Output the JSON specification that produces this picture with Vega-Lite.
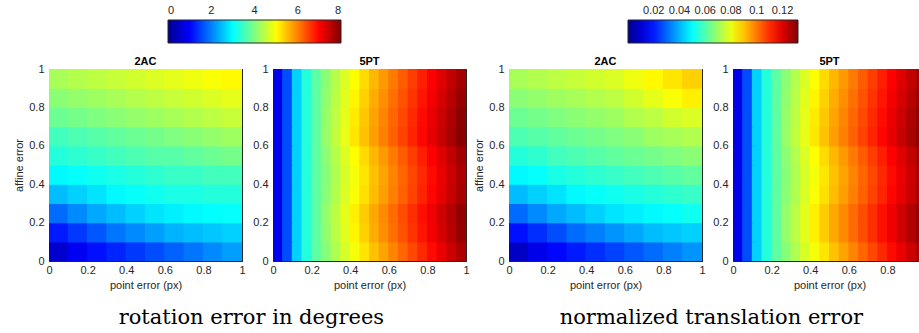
{
  "$schema": "https://vega.github.io/schema/vega-lite/v6.json",
  "padding": {"left": 13, "top": 20, "right": 0, "bottom": 0},
  "background": "white",
  "datasets": {
    "r2": [
      {"x":0.05,"y":0.05,"v":0.56},{"x":0.15,"y":0.05,"v":0.88},{"x":0.25,"y":0.05,"v":1.12},{"x":0.35,"y":0.05,"v":1.28},{"x":0.45,"y":0.05,"v":1.44},{"x":0.55,"y":0.05,"v":1.6},{"x":0.65,"y":0.05,"v":1.76},{"x":0.75,"y":0.05,"v":1.92},{"x":0.85,"y":0.05,"v":2.08},{"x":0.95,"y":0.05,"v":2.24},
      {"x":0.05,"y":0.15,"v":1.2},{"x":0.15,"y":0.15,"v":1.44},{"x":0.25,"y":0.15,"v":1.68},{"x":0.35,"y":0.15,"v":1.92},{"x":0.45,"y":0.15,"v":2.08},{"x":0.55,"y":0.15,"v":2.24},{"x":0.65,"y":0.15,"v":2.4},{"x":0.75,"y":0.15,"v":2.48},{"x":0.85,"y":0.15,"v":2.56},{"x":0.95,"y":0.15,"v":2.64},
      {"x":0.05,"y":0.25,"v":1.84},{"x":0.15,"y":0.25,"v":2.08},{"x":0.25,"y":0.25,"v":2.32},{"x":0.35,"y":0.25,"v":2.48},{"x":0.45,"y":0.25,"v":2.64},{"x":0.55,"y":0.25,"v":2.8},{"x":0.65,"y":0.25,"v":2.88},{"x":0.75,"y":0.25,"v":2.96},{"x":0.85,"y":0.25,"v":3.0},{"x":0.95,"y":0.25,"v":3.04},
      {"x":0.05,"y":0.35,"v":2.48},{"x":0.15,"y":0.35,"v":2.64},{"x":0.25,"y":0.35,"v":2.8},{"x":0.35,"y":0.35,"v":2.96},{"x":0.45,"y":0.35,"v":3.04},{"x":0.55,"y":0.35,"v":3.12},{"x":0.65,"y":0.35,"v":3.2},{"x":0.75,"y":0.35,"v":3.2},{"x":0.85,"y":0.35,"v":3.28},{"x":0.95,"y":0.35,"v":3.28},
      {"x":0.05,"y":0.45,"v":2.96},{"x":0.15,"y":0.45,"v":3.04},{"x":0.25,"y":0.45,"v":3.12},{"x":0.35,"y":0.45,"v":3.2},{"x":0.45,"y":0.45,"v":3.28},{"x":0.55,"y":0.45,"v":3.36},{"x":0.65,"y":0.45,"v":3.44},{"x":0.75,"y":0.45,"v":3.44},{"x":0.85,"y":0.45,"v":3.52},{"x":0.95,"y":0.45,"v":3.52},
      {"x":0.05,"y":0.55,"v":3.28},{"x":0.15,"y":0.55,"v":3.36},{"x":0.25,"y":0.55,"v":3.44},{"x":0.35,"y":0.55,"v":3.52},{"x":0.45,"y":0.55,"v":3.6},{"x":0.55,"y":0.55,"v":3.68},{"x":0.65,"y":0.55,"v":3.68},{"x":0.75,"y":0.55,"v":3.76},{"x":0.85,"y":0.55,"v":3.84},{"x":0.95,"y":0.55,"v":3.92},
      {"x":0.05,"y":0.65,"v":3.52},{"x":0.15,"y":0.65,"v":3.6},{"x":0.25,"y":0.65,"v":3.68},{"x":0.35,"y":0.65,"v":3.76},{"x":0.45,"y":0.65,"v":3.84},{"x":0.55,"y":0.65,"v":3.92},{"x":0.65,"y":0.65,"v":4.0},{"x":0.75,"y":0.65,"v":4.08},{"x":0.85,"y":0.65,"v":4.16},{"x":0.95,"y":0.65,"v":4.24},
      {"x":0.05,"y":0.75,"v":3.84},{"x":0.15,"y":0.75,"v":3.92},{"x":0.25,"y":0.75,"v":4.0},{"x":0.35,"y":0.75,"v":4.08},{"x":0.45,"y":0.75,"v":4.16},{"x":0.55,"y":0.75,"v":4.24},{"x":0.65,"y":0.75,"v":4.32},{"x":0.75,"y":0.75,"v":4.4},{"x":0.85,"y":0.75,"v":4.48},{"x":0.95,"y":0.75,"v":4.56},
      {"x":0.05,"y":0.85,"v":4.08},{"x":0.15,"y":0.85,"v":4.16},{"x":0.25,"y":0.85,"v":4.24},{"x":0.35,"y":0.85,"v":4.32},{"x":0.45,"y":0.85,"v":4.4},{"x":0.55,"y":0.85,"v":4.48},{"x":0.65,"y":0.85,"v":4.56},{"x":0.75,"y":0.85,"v":4.64},{"x":0.85,"y":0.85,"v":4.72},{"x":0.95,"y":0.85,"v":4.8},
      {"x":0.05,"y":0.95,"v":4.32},{"x":0.15,"y":0.95,"v":4.4},{"x":0.25,"y":0.95,"v":4.48},{"x":0.35,"y":0.95,"v":4.56},{"x":0.45,"y":0.95,"v":4.64},{"x":0.55,"y":0.95,"v":4.72},{"x":0.65,"y":0.95,"v":4.8},{"x":0.75,"y":0.95,"v":4.88},{"x":0.85,"y":0.95,"v":4.96},{"x":0.95,"y":0.95,"v":5.04}
    ],
    "t2": [
      {"x":0.05,"y":0.05,"v":0.0079},{"x":0.15,"y":0.05,"v":0.0132},{"x":0.25,"y":0.05,"v":0.0172},{"x":0.35,"y":0.05,"v":0.0198},{"x":0.45,"y":0.05,"v":0.0224},{"x":0.55,"y":0.05,"v":0.0251},{"x":0.65,"y":0.05,"v":0.0277},{"x":0.75,"y":0.05,"v":0.0304},{"x":0.85,"y":0.05,"v":0.033},{"x":0.95,"y":0.05,"v":0.0356},
      {"x":0.05,"y":0.15,"v":0.0185},{"x":0.15,"y":0.15,"v":0.0224},{"x":0.25,"y":0.15,"v":0.0264},{"x":0.35,"y":0.15,"v":0.0304},{"x":0.45,"y":0.15,"v":0.033},{"x":0.55,"y":0.15,"v":0.0356},{"x":0.65,"y":0.15,"v":0.0383},{"x":0.75,"y":0.15,"v":0.0409},{"x":0.85,"y":0.15,"v":0.0422},{"x":0.95,"y":0.15,"v":0.0436},
      {"x":0.05,"y":0.25,"v":0.0304},{"x":0.15,"y":0.25,"v":0.0343},{"x":0.25,"y":0.25,"v":0.0383},{"x":0.35,"y":0.25,"v":0.0409},{"x":0.45,"y":0.25,"v":0.0436},{"x":0.55,"y":0.25,"v":0.0462},{"x":0.65,"y":0.25,"v":0.0475},{"x":0.75,"y":0.25,"v":0.0488},{"x":0.85,"y":0.25,"v":0.0502},{"x":0.95,"y":0.25,"v":0.0515},
      {"x":0.05,"y":0.35,"v":0.0409},{"x":0.15,"y":0.35,"v":0.0436},{"x":0.25,"y":0.35,"v":0.0462},{"x":0.35,"y":0.35,"v":0.0488},{"x":0.45,"y":0.35,"v":0.0502},{"x":0.55,"y":0.35,"v":0.0515},{"x":0.65,"y":0.35,"v":0.0528},{"x":0.75,"y":0.35,"v":0.0541},{"x":0.85,"y":0.35,"v":0.0554},{"x":0.95,"y":0.35,"v":0.0568},
      {"x":0.05,"y":0.45,"v":0.0488},{"x":0.15,"y":0.45,"v":0.0502},{"x":0.25,"y":0.45,"v":0.0528},{"x":0.35,"y":0.45,"v":0.0541},{"x":0.45,"y":0.45,"v":0.0554},{"x":0.55,"y":0.45,"v":0.0568},{"x":0.65,"y":0.45,"v":0.0581},{"x":0.75,"y":0.45,"v":0.0594},{"x":0.85,"y":0.45,"v":0.0607},{"x":0.95,"y":0.45,"v":0.062},
      {"x":0.05,"y":0.55,"v":0.0541},{"x":0.15,"y":0.55,"v":0.0554},{"x":0.25,"y":0.55,"v":0.0581},{"x":0.35,"y":0.55,"v":0.0594},{"x":0.45,"y":0.55,"v":0.0607},{"x":0.55,"y":0.55,"v":0.062},{"x":0.65,"y":0.55,"v":0.0634},{"x":0.75,"y":0.55,"v":0.0647},{"x":0.85,"y":0.55,"v":0.066},{"x":0.95,"y":0.55,"v":0.0673},
      {"x":0.05,"y":0.65,"v":0.0594},{"x":0.15,"y":0.65,"v":0.0607},{"x":0.25,"y":0.65,"v":0.062},{"x":0.35,"y":0.65,"v":0.0634},{"x":0.45,"y":0.65,"v":0.0647},{"x":0.55,"y":0.65,"v":0.066},{"x":0.65,"y":0.65,"v":0.0673},{"x":0.75,"y":0.65,"v":0.07},{"x":0.85,"y":0.65,"v":0.0713},{"x":0.95,"y":0.65,"v":0.0726},
      {"x":0.05,"y":0.75,"v":0.0634},{"x":0.15,"y":0.75,"v":0.0647},{"x":0.25,"y":0.75,"v":0.066},{"x":0.35,"y":0.75,"v":0.0673},{"x":0.45,"y":0.75,"v":0.0686},{"x":0.55,"y":0.75,"v":0.07},{"x":0.65,"y":0.75,"v":0.0726},{"x":0.75,"y":0.75,"v":0.0739},{"x":0.85,"y":0.75,"v":0.0766},{"x":0.95,"y":0.75,"v":0.0779},
      {"x":0.05,"y":0.85,"v":0.0673},{"x":0.15,"y":0.85,"v":0.0686},{"x":0.25,"y":0.85,"v":0.07},{"x":0.35,"y":0.85,"v":0.0713},{"x":0.45,"y":0.85,"v":0.0726},{"x":0.55,"y":0.85,"v":0.0739},{"x":0.65,"y":0.85,"v":0.0766},{"x":0.75,"y":0.85,"v":0.0792},{"x":0.85,"y":0.85,"v":0.0818},{"x":0.95,"y":0.85,"v":0.0845},
      {"x":0.05,"y":0.95,"v":0.0713},{"x":0.15,"y":0.95,"v":0.0726},{"x":0.25,"y":0.95,"v":0.0739},{"x":0.35,"y":0.95,"v":0.0752},{"x":0.45,"y":0.95,"v":0.0766},{"x":0.55,"y":0.95,"v":0.0779},{"x":0.65,"y":0.95,"v":0.0805},{"x":0.75,"y":0.95,"v":0.0832},{"x":0.85,"y":0.95,"v":0.0858},{"x":0.95,"y":0.95,"v":0.0884}
    ],
    "r5": [
      {"x":0.025,"y":0.05,"v":0.8},{"x":0.075,"y":0.05,"v":1.6},{"x":0.125,"y":0.05,"v":2.64},{"x":0.175,"y":0.05,"v":3.28},{"x":0.225,"y":0.05,"v":3.72},{"x":0.275,"y":0.05,"v":4.04},{"x":0.325,"y":0.05,"v":4.36},{"x":0.375,"y":0.05,"v":4.68},{"x":0.425,"y":0.05,"v":4.92},{"x":0.475,"y":0.05,"v":5.2},{"x":0.525,"y":0.05,"v":5.48},{"x":0.575,"y":0.05,"v":5.72},{"x":0.625,"y":0.05,"v":5.96},{"x":0.675,"y":0.05,"v":6.2},{"x":0.725,"y":0.05,"v":6.44},{"x":0.775,"y":0.05,"v":6.68},{"x":0.825,"y":0.05,"v":6.92},{"x":0.875,"y":0.05,"v":7.16},{"x":0.925,"y":0.05,"v":7.4},{"x":0.975,"y":0.05,"v":7.64},
      {"x":0.025,"y":0.15,"v":0.8},{"x":0.075,"y":0.15,"v":1.6},{"x":0.125,"y":0.15,"v":2.64},{"x":0.175,"y":0.15,"v":3.28},{"x":0.225,"y":0.15,"v":3.72},{"x":0.275,"y":0.15,"v":4.12},{"x":0.325,"y":0.15,"v":4.44},{"x":0.375,"y":0.15,"v":4.76},{"x":0.425,"y":0.15,"v":5.08},{"x":0.475,"y":0.15,"v":5.36},{"x":0.525,"y":0.15,"v":5.64},{"x":0.575,"y":0.15,"v":5.88},{"x":0.625,"y":0.15,"v":6.12},{"x":0.675,"y":0.15,"v":6.36},{"x":0.725,"y":0.15,"v":6.6},{"x":0.775,"y":0.15,"v":6.84},{"x":0.825,"y":0.15,"v":7.08},{"x":0.875,"y":0.15,"v":7.32},{"x":0.925,"y":0.15,"v":7.56},{"x":0.975,"y":0.15,"v":7.8},
      {"x":0.025,"y":0.25,"v":0.8},{"x":0.075,"y":0.25,"v":1.6},{"x":0.125,"y":0.25,"v":2.64},{"x":0.175,"y":0.25,"v":3.28},{"x":0.225,"y":0.25,"v":3.72},{"x":0.275,"y":0.25,"v":4.14},{"x":0.325,"y":0.25,"v":4.46},{"x":0.375,"y":0.25,"v":4.78},{"x":0.425,"y":0.25,"v":5.12},{"x":0.475,"y":0.25,"v":5.4},{"x":0.525,"y":0.25,"v":5.68},{"x":0.575,"y":0.25,"v":5.92},{"x":0.625,"y":0.25,"v":6.16},{"x":0.675,"y":0.25,"v":6.4},{"x":0.725,"y":0.25,"v":6.64},{"x":0.775,"y":0.25,"v":6.88},{"x":0.825,"y":0.25,"v":7.12},{"x":0.875,"y":0.25,"v":7.36},{"x":0.925,"y":0.25,"v":7.6},{"x":0.975,"y":0.25,"v":7.84},
      {"x":0.025,"y":0.35,"v":0.8},{"x":0.075,"y":0.35,"v":1.6},{"x":0.125,"y":0.35,"v":2.64},{"x":0.175,"y":0.35,"v":3.28},{"x":0.225,"y":0.35,"v":3.72},{"x":0.275,"y":0.35,"v":4.06},{"x":0.325,"y":0.35,"v":4.38},{"x":0.375,"y":0.35,"v":4.7},{"x":0.425,"y":0.35,"v":4.96},{"x":0.475,"y":0.35,"v":5.24},{"x":0.525,"y":0.35,"v":5.52},{"x":0.575,"y":0.35,"v":5.76},{"x":0.625,"y":0.35,"v":6.0},{"x":0.675,"y":0.35,"v":6.24},{"x":0.725,"y":0.35,"v":6.48},{"x":0.775,"y":0.35,"v":6.72},{"x":0.825,"y":0.35,"v":6.96},{"x":0.875,"y":0.35,"v":7.2},{"x":0.925,"y":0.35,"v":7.44},{"x":0.975,"y":0.35,"v":7.68},
      {"x":0.025,"y":0.45,"v":0.8},{"x":0.075,"y":0.45,"v":1.6},{"x":0.125,"y":0.45,"v":2.64},{"x":0.175,"y":0.45,"v":3.28},{"x":0.225,"y":0.45,"v":3.72},{"x":0.275,"y":0.45,"v":4.04},{"x":0.325,"y":0.45,"v":4.36},{"x":0.375,"y":0.45,"v":4.68},{"x":0.425,"y":0.45,"v":4.92},{"x":0.475,"y":0.45,"v":5.2},{"x":0.525,"y":0.45,"v":5.48},{"x":0.575,"y":0.45,"v":5.72},{"x":0.625,"y":0.45,"v":5.96},{"x":0.675,"y":0.45,"v":6.2},{"x":0.725,"y":0.45,"v":6.44},{"x":0.775,"y":0.45,"v":6.68},{"x":0.825,"y":0.45,"v":6.92},{"x":0.875,"y":0.45,"v":7.16},{"x":0.925,"y":0.45,"v":7.4},{"x":0.975,"y":0.45,"v":7.64},
      {"x":0.025,"y":0.55,"v":0.8},{"x":0.075,"y":0.55,"v":1.6},{"x":0.125,"y":0.55,"v":2.64},{"x":0.175,"y":0.55,"v":3.28},{"x":0.225,"y":0.55,"v":3.72},{"x":0.275,"y":0.55,"v":4.08},{"x":0.325,"y":0.55,"v":4.4},{"x":0.375,"y":0.55,"v":4.72},{"x":0.425,"y":0.55,"v":5.0},{"x":0.475,"y":0.55,"v":5.28},{"x":0.525,"y":0.55,"v":5.56},{"x":0.575,"y":0.55,"v":5.8},{"x":0.625,"y":0.55,"v":6.04},{"x":0.675,"y":0.55,"v":6.28},{"x":0.725,"y":0.55,"v":6.52},{"x":0.775,"y":0.55,"v":6.76},{"x":0.825,"y":0.55,"v":7.0},{"x":0.875,"y":0.55,"v":7.24},{"x":0.925,"y":0.55,"v":7.48},{"x":0.975,"y":0.55,"v":7.72},
      {"x":0.025,"y":0.65,"v":0.8},{"x":0.075,"y":0.65,"v":1.6},{"x":0.125,"y":0.65,"v":2.64},{"x":0.175,"y":0.65,"v":3.28},{"x":0.225,"y":0.65,"v":3.72},{"x":0.275,"y":0.65,"v":4.18},{"x":0.325,"y":0.65,"v":4.5},{"x":0.375,"y":0.65,"v":4.82},{"x":0.425,"y":0.65,"v":5.2},{"x":0.475,"y":0.65,"v":5.48},{"x":0.525,"y":0.65,"v":5.76},{"x":0.575,"y":0.65,"v":6.0},{"x":0.625,"y":0.65,"v":6.24},{"x":0.675,"y":0.65,"v":6.48},{"x":0.725,"y":0.65,"v":6.72},{"x":0.775,"y":0.65,"v":6.96},{"x":0.825,"y":0.65,"v":7.2},{"x":0.875,"y":0.65,"v":7.44},{"x":0.925,"y":0.65,"v":7.68},{"x":0.975,"y":0.65,"v":7.92},
      {"x":0.025,"y":0.75,"v":0.8},{"x":0.075,"y":0.75,"v":1.6},{"x":0.125,"y":0.75,"v":2.64},{"x":0.175,"y":0.75,"v":3.28},{"x":0.225,"y":0.75,"v":3.72},{"x":0.275,"y":0.75,"v":4.16},{"x":0.325,"y":0.75,"v":4.48},{"x":0.375,"y":0.75,"v":4.8},{"x":0.425,"y":0.75,"v":5.16},{"x":0.475,"y":0.75,"v":5.44},{"x":0.525,"y":0.75,"v":5.72},{"x":0.575,"y":0.75,"v":5.96},{"x":0.625,"y":0.75,"v":6.2},{"x":0.675,"y":0.75,"v":6.44},{"x":0.725,"y":0.75,"v":6.68},{"x":0.775,"y":0.75,"v":6.92},{"x":0.825,"y":0.75,"v":7.16},{"x":0.875,"y":0.75,"v":7.4},{"x":0.925,"y":0.75,"v":7.64},{"x":0.975,"y":0.75,"v":7.88},
      {"x":0.025,"y":0.85,"v":0.8},{"x":0.075,"y":0.85,"v":1.6},{"x":0.125,"y":0.85,"v":2.64},{"x":0.175,"y":0.85,"v":3.28},{"x":0.225,"y":0.85,"v":3.72},{"x":0.275,"y":0.85,"v":4.12},{"x":0.325,"y":0.85,"v":4.44},{"x":0.375,"y":0.85,"v":4.76},{"x":0.425,"y":0.85,"v":5.08},{"x":0.475,"y":0.85,"v":5.36},{"x":0.525,"y":0.85,"v":5.64},{"x":0.575,"y":0.85,"v":5.88},{"x":0.625,"y":0.85,"v":6.12},{"x":0.675,"y":0.85,"v":6.36},{"x":0.725,"y":0.85,"v":6.6},{"x":0.775,"y":0.85,"v":6.84},{"x":0.825,"y":0.85,"v":7.08},{"x":0.875,"y":0.85,"v":7.32},{"x":0.925,"y":0.85,"v":7.56},{"x":0.975,"y":0.85,"v":7.8},
      {"x":0.025,"y":0.95,"v":0.8},{"x":0.075,"y":0.95,"v":1.6},{"x":0.125,"y":0.95,"v":2.64},{"x":0.175,"y":0.95,"v":3.28},{"x":0.225,"y":0.95,"v":3.72},{"x":0.275,"y":0.95,"v":4.08},{"x":0.325,"y":0.95,"v":4.4},{"x":0.375,"y":0.95,"v":4.72},{"x":0.425,"y":0.95,"v":5.0},{"x":0.475,"y":0.95,"v":5.28},{"x":0.525,"y":0.95,"v":5.56},{"x":0.575,"y":0.95,"v":5.8},{"x":0.625,"y":0.95,"v":6.04},{"x":0.675,"y":0.95,"v":6.28},{"x":0.725,"y":0.95,"v":6.52},{"x":0.775,"y":0.95,"v":6.76},{"x":0.825,"y":0.95,"v":7.0},{"x":0.875,"y":0.95,"v":7.24},{"x":0.925,"y":0.95,"v":7.48},{"x":0.975,"y":0.95,"v":7.72}
    ],
    "t5": [
      {"x":0.025,"y":0.05,"v":0.0132},{"x":0.075,"y":0.05,"v":0.0264},{"x":0.125,"y":0.05,"v":0.0436},{"x":0.175,"y":0.05,"v":0.0541},{"x":0.225,"y":0.05,"v":0.0614},{"x":0.275,"y":0.05,"v":0.0667},{"x":0.325,"y":0.05,"v":0.072},{"x":0.375,"y":0.05,"v":0.0773},{"x":0.425,"y":0.05,"v":0.0812},{"x":0.475,"y":0.05,"v":0.0858},{"x":0.525,"y":0.05,"v":0.0904},{"x":0.575,"y":0.05,"v":0.0944},{"x":0.625,"y":0.05,"v":0.0984},{"x":0.675,"y":0.05,"v":0.1023},{"x":0.725,"y":0.05,"v":0.1063},{"x":0.775,"y":0.05,"v":0.1102},{"x":0.825,"y":0.05,"v":0.1142},{"x":0.875,"y":0.05,"v":0.1182},{"x":0.925,"y":0.05,"v":0.1221},{"x":0.975,"y":0.05,"v":0.1261},
      {"x":0.025,"y":0.15,"v":0.0132},{"x":0.075,"y":0.15,"v":0.0264},{"x":0.125,"y":0.15,"v":0.0436},{"x":0.175,"y":0.15,"v":0.0541},{"x":0.225,"y":0.15,"v":0.0614},{"x":0.275,"y":0.15,"v":0.0683},{"x":0.325,"y":0.15,"v":0.0736},{"x":0.375,"y":0.15,"v":0.0789},{"x":0.425,"y":0.15,"v":0.0845},{"x":0.475,"y":0.15,"v":0.0891},{"x":0.525,"y":0.15,"v":0.0937},{"x":0.575,"y":0.15,"v":0.0977},{"x":0.625,"y":0.15,"v":0.1017},{"x":0.675,"y":0.15,"v":0.1056},{"x":0.725,"y":0.15,"v":0.1096},{"x":0.775,"y":0.15,"v":0.1135},{"x":0.825,"y":0.15,"v":0.1175},{"x":0.875,"y":0.15,"v":0.1215},{"x":0.925,"y":0.15,"v":0.1254},{"x":0.975,"y":0.15,"v":0.1294},
      {"x":0.025,"y":0.25,"v":0.0132},{"x":0.075,"y":0.25,"v":0.0264},{"x":0.125,"y":0.25,"v":0.0436},{"x":0.175,"y":0.25,"v":0.0541},{"x":0.225,"y":0.25,"v":0.0614},{"x":0.275,"y":0.25,"v":0.0683},{"x":0.325,"y":0.25,"v":0.0736},{"x":0.375,"y":0.25,"v":0.0789},{"x":0.425,"y":0.25,"v":0.0845},{"x":0.475,"y":0.25,"v":0.0891},{"x":0.525,"y":0.25,"v":0.0937},{"x":0.575,"y":0.25,"v":0.0977},{"x":0.625,"y":0.25,"v":0.1017},{"x":0.675,"y":0.25,"v":0.1056},{"x":0.725,"y":0.25,"v":0.1096},{"x":0.775,"y":0.25,"v":0.1135},{"x":0.825,"y":0.25,"v":0.1175},{"x":0.875,"y":0.25,"v":0.1215},{"x":0.925,"y":0.25,"v":0.1254},{"x":0.975,"y":0.25,"v":0.1294},
      {"x":0.025,"y":0.35,"v":0.0132},{"x":0.075,"y":0.35,"v":0.0264},{"x":0.125,"y":0.35,"v":0.0436},{"x":0.175,"y":0.35,"v":0.0541},{"x":0.225,"y":0.35,"v":0.0614},{"x":0.275,"y":0.35,"v":0.067},{"x":0.325,"y":0.35,"v":0.0723},{"x":0.375,"y":0.35,"v":0.0776},{"x":0.425,"y":0.35,"v":0.0818},{"x":0.475,"y":0.35,"v":0.0864},{"x":0.525,"y":0.35,"v":0.091},{"x":0.575,"y":0.35,"v":0.095},{"x":0.625,"y":0.35,"v":0.099},{"x":0.675,"y":0.35,"v":0.1029},{"x":0.725,"y":0.35,"v":0.1069},{"x":0.775,"y":0.35,"v":0.1108},{"x":0.825,"y":0.35,"v":0.1148},{"x":0.875,"y":0.35,"v":0.1188},{"x":0.925,"y":0.35,"v":0.1227},{"x":0.975,"y":0.35,"v":0.1267},
      {"x":0.025,"y":0.45,"v":0.0132},{"x":0.075,"y":0.45,"v":0.0264},{"x":0.125,"y":0.45,"v":0.0436},{"x":0.175,"y":0.45,"v":0.0541},{"x":0.225,"y":0.45,"v":0.0614},{"x":0.275,"y":0.45,"v":0.0667},{"x":0.325,"y":0.45,"v":0.072},{"x":0.375,"y":0.45,"v":0.0773},{"x":0.425,"y":0.45,"v":0.0812},{"x":0.475,"y":0.45,"v":0.0858},{"x":0.525,"y":0.45,"v":0.0904},{"x":0.575,"y":0.45,"v":0.0944},{"x":0.625,"y":0.45,"v":0.0984},{"x":0.675,"y":0.45,"v":0.1023},{"x":0.725,"y":0.45,"v":0.1063},{"x":0.775,"y":0.45,"v":0.1102},{"x":0.825,"y":0.45,"v":0.1142},{"x":0.875,"y":0.45,"v":0.1182},{"x":0.925,"y":0.45,"v":0.1221},{"x":0.975,"y":0.45,"v":0.1261},
      {"x":0.025,"y":0.55,"v":0.0132},{"x":0.075,"y":0.55,"v":0.0264},{"x":0.125,"y":0.55,"v":0.0436},{"x":0.175,"y":0.55,"v":0.0541},{"x":0.225,"y":0.55,"v":0.0614},{"x":0.275,"y":0.55,"v":0.0673},{"x":0.325,"y":0.55,"v":0.0726},{"x":0.375,"y":0.55,"v":0.0779},{"x":0.425,"y":0.55,"v":0.0825},{"x":0.475,"y":0.55,"v":0.0871},{"x":0.525,"y":0.55,"v":0.0917},{"x":0.575,"y":0.55,"v":0.0957},{"x":0.625,"y":0.55,"v":0.0997},{"x":0.675,"y":0.55,"v":0.1036},{"x":0.725,"y":0.55,"v":0.1076},{"x":0.775,"y":0.55,"v":0.1115},{"x":0.825,"y":0.55,"v":0.1155},{"x":0.875,"y":0.55,"v":0.1195},{"x":0.925,"y":0.55,"v":0.1234},{"x":0.975,"y":0.55,"v":0.1274},
      {"x":0.025,"y":0.65,"v":0.0132},{"x":0.075,"y":0.65,"v":0.0264},{"x":0.125,"y":0.65,"v":0.0436},{"x":0.175,"y":0.65,"v":0.0541},{"x":0.225,"y":0.65,"v":0.0614},{"x":0.275,"y":0.65,"v":0.069},{"x":0.325,"y":0.65,"v":0.0743},{"x":0.375,"y":0.65,"v":0.0796},{"x":0.425,"y":0.65,"v":0.0858},{"x":0.475,"y":0.65,"v":0.0904},{"x":0.525,"y":0.65,"v":0.095},{"x":0.575,"y":0.65,"v":0.099},{"x":0.625,"y":0.65,"v":0.103},{"x":0.675,"y":0.65,"v":0.1069},{"x":0.725,"y":0.65,"v":0.1109},{"x":0.775,"y":0.65,"v":0.1148},{"x":0.825,"y":0.65,"v":0.1188},{"x":0.875,"y":0.65,"v":0.1228},{"x":0.925,"y":0.65,"v":0.1267},{"x":0.975,"y":0.65,"v":0.1307},
      {"x":0.025,"y":0.75,"v":0.0132},{"x":0.075,"y":0.75,"v":0.0264},{"x":0.125,"y":0.75,"v":0.0436},{"x":0.175,"y":0.75,"v":0.0541},{"x":0.225,"y":0.75,"v":0.0614},{"x":0.275,"y":0.75,"v":0.0686},{"x":0.325,"y":0.75,"v":0.0739},{"x":0.375,"y":0.75,"v":0.0792},{"x":0.425,"y":0.75,"v":0.0851},{"x":0.475,"y":0.75,"v":0.0897},{"x":0.525,"y":0.75,"v":0.0943},{"x":0.575,"y":0.75,"v":0.0983},{"x":0.625,"y":0.75,"v":0.1023},{"x":0.675,"y":0.75,"v":0.1062},{"x":0.725,"y":0.75,"v":0.1102},{"x":0.775,"y":0.75,"v":0.1141},{"x":0.825,"y":0.75,"v":0.1181},{"x":0.875,"y":0.75,"v":0.1221},{"x":0.925,"y":0.75,"v":0.126},{"x":0.975,"y":0.75,"v":0.13},
      {"x":0.025,"y":0.85,"v":0.0132},{"x":0.075,"y":0.85,"v":0.0264},{"x":0.125,"y":0.85,"v":0.0436},{"x":0.175,"y":0.85,"v":0.0541},{"x":0.225,"y":0.85,"v":0.0614},{"x":0.275,"y":0.85,"v":0.068},{"x":0.325,"y":0.85,"v":0.0733},{"x":0.375,"y":0.85,"v":0.0786},{"x":0.425,"y":0.85,"v":0.0838},{"x":0.475,"y":0.85,"v":0.0884},{"x":0.525,"y":0.85,"v":0.093},{"x":0.575,"y":0.85,"v":0.097},{"x":0.625,"y":0.85,"v":0.101},{"x":0.675,"y":0.85,"v":0.1049},{"x":0.725,"y":0.85,"v":0.1089},{"x":0.775,"y":0.85,"v":0.1128},{"x":0.825,"y":0.85,"v":0.1168},{"x":0.875,"y":0.85,"v":0.1208},{"x":0.925,"y":0.85,"v":0.1247},{"x":0.975,"y":0.85,"v":0.1287},
      {"x":0.025,"y":0.95,"v":0.0132},{"x":0.075,"y":0.95,"v":0.0264},{"x":0.125,"y":0.95,"v":0.0436},{"x":0.175,"y":0.95,"v":0.0541},{"x":0.225,"y":0.95,"v":0.0614},{"x":0.275,"y":0.95,"v":0.0673},{"x":0.325,"y":0.95,"v":0.0726},{"x":0.375,"y":0.95,"v":0.0779},{"x":0.425,"y":0.95,"v":0.0825},{"x":0.475,"y":0.95,"v":0.0871},{"x":0.525,"y":0.95,"v":0.0917},{"x":0.575,"y":0.95,"v":0.0957},{"x":0.625,"y":0.95,"v":0.0997},{"x":0.675,"y":0.95,"v":0.1036},{"x":0.725,"y":0.95,"v":0.1076},{"x":0.775,"y":0.95,"v":0.1115},{"x":0.825,"y":0.95,"v":0.1155},{"x":0.875,"y":0.95,"v":0.1195},{"x":0.925,"y":0.95,"v":0.1234},{"x":0.975,"y":0.95,"v":0.1274}
    ]
  },
  "hconcat": [
    {
      "title": {"text": "rotation error in degrees", "orient": "bottom", "anchor": "middle", "font": "DejaVu Serif", "fontSize": 21, "fontWeight": "normal", "color": "black", "offset": 16, "dx": 10},
      "spacing": 6,
      "resolve": {"scale": {"color": "shared"}},
      "hconcat": [
        {
          "data": {"name": "r2"},
          "width": 193, "height": 192,
          "title": {"text": "2AC", "frame": "group", "anchor": "middle", "offset": -3.5},
          "resolve": {"axis": {"x": "independent", "y": "independent"}},
          "layer": [
            {
              "mark": {"type": "rect", "width": 20.5, "height": 20.5, "clip": true},
              "encoding": {
                "x": {"field": "x", "type": "quantitative", "scale": {"domain": [0, 1], "nice": false}, "axis": {"values": [0, 0.2, 0.4, 0.6, 0.8, 1], "labelExpr": "format(datum.value, '~g')", "title": "point error (px)"}},
                "y": {"field": "y", "type": "quantitative", "scale": {"domain": [0, 1], "nice": false}, "axis": {"values": [0, 0.2, 0.4, 0.6, 0.8, 1], "labelExpr": "format(datum.value, '~g')", "title": "affine error", "labelPadding": 8}},
                "color": {"field": "v", "type": "quantitative", "scale": {"domain": [0, 1, 3, 5, 7, 8], "range": ["#00008f", "#0000ff", "#00ffff", "#ffff00", "#ff0000", "#800000"], "interpolate": "rgb"},
                  "legend": {"type": "gradient", "orient": "none", "legendX": 119, "legendY": -49, "direction": "horizontal", "title": null, "gradientLength": 173, "gradientThickness": 23, "values": [0, 2, 4, 6, 8], "labelOffset": -38, "labelAlign": "center"}}
              }
            },
            {
              "mark": {"type": "rect", "width": 20.5, "height": 20.5, "clip": true, "opacity": 0},
              "encoding": {
                "x": {"field": "x", "type": "quantitative", "axis": {"orient": "top", "values": [0, 0.2, 0.4, 0.6, 0.8, 1], "labels": false, "title": null, "domain": false}},
                "y": {"field": "y", "type": "quantitative", "axis": {"orient": "right", "values": [0, 0.2, 0.4, 0.6, 0.8, 1], "labels": false, "title": null, "domain": false}}
              }
            }
          ]
        },
        {
          "data": {"name": "r5"},
          "width": 193, "height": 192,
          "title": {"text": "5PT", "frame": "group", "anchor": "middle", "offset": -3.5},
          "resolve": {"axis": {"x": "independent", "y": "independent"}},
          "layer": [
            {
              "mark": {"type": "rect", "width": 10.6, "height": 20.5, "clip": true},
              "encoding": {
                "x": {"field": "x", "type": "quantitative", "scale": {"domain": [0, 1], "nice": false}, "axis": {"values": [0, 0.2, 0.4, 0.6, 0.8, 1], "labelExpr": "format(datum.value, '~g')", "title": "point error (px)"}},
                "y": {"field": "y", "type": "quantitative", "scale": {"domain": [0, 1], "nice": false}, "axis": {"values": [0, 0.2, 0.4, 0.6, 0.8, 1], "labelExpr": "format(datum.value, '~g')", "title": null, "labelPadding": 8}},
                "color": {"field": "v", "type": "quantitative", "scale": {"domain": [0, 1, 3, 5, 7, 8], "range": ["#00008f", "#0000ff", "#00ffff", "#ffff00", "#ff0000", "#800000"], "interpolate": "rgb"},
                  "legend": {"type": "gradient", "orient": "none", "legendX": 119, "legendY": -49, "direction": "horizontal", "title": null, "gradientLength": 173, "gradientThickness": 23, "values": [0, 2, 4, 6, 8], "labelOffset": -38, "labelAlign": "center"}}
              }
            },
            {
              "mark": {"type": "rect", "width": 10.6, "height": 20.5, "clip": true, "opacity": 0},
              "encoding": {
                "x": {"field": "x", "type": "quantitative", "axis": {"orient": "top", "values": [0, 0.2, 0.4, 0.6, 0.8, 1], "labels": false, "title": null, "domain": false}},
                "y": {"field": "y", "type": "quantitative", "axis": {"orient": "right", "values": [0, 0.2, 0.4, 0.6, 0.8, 1], "labels": false, "title": null, "domain": false}}
              }
            }
          ]
        }
      ]
    },
    {
      "title": {"text": "normalized translation error", "orient": "bottom", "anchor": "middle", "font": "DejaVu Serif", "fontSize": 21, "fontWeight": "normal", "color": "black", "offset": 16, "dx": 10},
      "spacing": 6,
      "resolve": {"scale": {"color": "shared"}},
      "hconcat": [
        {
          "data": {"name": "t2"},
          "width": 193, "height": 192,
          "title": {"text": "2AC", "frame": "group", "anchor": "middle", "offset": -3.5},
          "resolve": {"axis": {"x": "independent", "y": "independent"}},
          "layer": [
            {
              "mark": {"type": "rect", "width": 20.5, "height": 20.5, "clip": true},
              "encoding": {
                "x": {"field": "x", "type": "quantitative", "scale": {"domain": [0, 1], "nice": false}, "axis": {"values": [0, 0.2, 0.4, 0.6, 0.8, 1], "labelExpr": "format(datum.value, '~g')", "title": "point error (px)"}},
                "y": {"field": "y", "type": "quantitative", "scale": {"domain": [0, 1], "nice": false}, "axis": {"values": [0, 0.2, 0.4, 0.6, 0.8, 1], "labelExpr": "format(datum.value, '~g')", "title": "affine error", "labelPadding": 8}},
                "color": {"field": "v", "type": "quantitative", "scale": {"domain": [0, 0.0165, 0.0495, 0.0825, 0.1155, 0.132], "range": ["#00008f", "#0000ff", "#00ffff", "#ffff00", "#ff0000", "#800000"], "interpolate": "rgb"},
                  "legend": {"type": "gradient", "orient": "none", "legendX": 119, "legendY": -49, "direction": "horizontal", "title": null, "gradientLength": 170, "gradientThickness": 23, "values": [0.02, 0.04, 0.06, 0.08, 0.1, 0.12], "labelExpr": "format(datum.value, '.2~f')", "labelOffset": -38, "labelAlign": "center"}}
              }
            },
            {
              "mark": {"type": "rect", "width": 20.5, "height": 20.5, "clip": true, "opacity": 0},
              "encoding": {
                "x": {"field": "x", "type": "quantitative", "axis": {"orient": "top", "values": [0, 0.2, 0.4, 0.6, 0.8, 1], "labels": false, "title": null, "domain": false}},
                "y": {"field": "y", "type": "quantitative", "axis": {"orient": "right", "values": [0, 0.2, 0.4, 0.6, 0.8, 1], "labels": false, "title": null, "domain": false}}
              }
            }
          ]
        },
        {
          "data": {"name": "t5"},
          "width": 193, "height": 192,
          "title": {"text": "5PT", "frame": "group", "anchor": "middle", "offset": -3.5},
          "resolve": {"axis": {"x": "independent", "y": "independent"}},
          "layer": [
            {
              "mark": {"type": "rect", "width": 10.6, "height": 20.5, "clip": true},
              "encoding": {
                "x": {"field": "x", "type": "quantitative", "scale": {"domain": [0, 1], "nice": false}, "axis": {"values": [0, 0.2, 0.4, 0.6, 0.8, 1], "labelExpr": "format(datum.value, '~g')", "title": "point error (px)"}},
                "y": {"field": "y", "type": "quantitative", "scale": {"domain": [0, 1], "nice": false}, "axis": {"values": [0, 0.2, 0.4, 0.6, 0.8, 1], "labelExpr": "format(datum.value, '~g')", "title": null, "labelPadding": 8}},
                "color": {"field": "v", "type": "quantitative", "scale": {"domain": [0, 0.0165, 0.0495, 0.0825, 0.1155, 0.132], "range": ["#00008f", "#0000ff", "#00ffff", "#ffff00", "#ff0000", "#800000"], "interpolate": "rgb"},
                  "legend": {"type": "gradient", "orient": "none", "legendX": 119, "legendY": -49, "direction": "horizontal", "title": null, "gradientLength": 170, "gradientThickness": 23, "values": [0.02, 0.04, 0.06, 0.08, 0.1, 0.12], "labelExpr": "format(datum.value, '.2~f')", "labelOffset": -38, "labelAlign": "center"}}
              }
            },
            {
              "mark": {"type": "rect", "width": 10.6, "height": 20.5, "clip": true, "opacity": 0},
              "encoding": {
                "x": {"field": "x", "type": "quantitative", "axis": {"orient": "top", "values": [0, 0.2, 0.4, 0.6, 0.8, 1], "labels": false, "title": null, "domain": false}},
                "y": {"field": "y", "type": "quantitative", "axis": {"orient": "right", "values": [0, 0.2, 0.4, 0.6, 0.8, 1], "labels": false, "title": null, "domain": false}}
              }
            }
          ]
        }
      ]
    }
  ],
  "spacing": 3,
  "resolve": {"scale": {"color": "independent"}},
  "config": {
    "font": "Liberation Sans",
    "view": {"stroke": "#262626", "strokeWidth": 1},
    "axis": {"labelFont": "Liberation Sans", "labelFontSize": 11, "labelColor": "#262626", "titleFont": "Liberation Sans", "titleFontSize": 11, "titleFontWeight": "normal", "titleColor": "#262626", "domainColor": "#262626", "tickColor": "#262626", "tickSize": -3, "labelPadding": 6, "grid": false, "labelFlush": false, "titlePadding": 4},
    "title": {"font": "Liberation Sans", "fontSize": 11, "fontWeight": "bold", "color": "black", "offset": 4},
    "legend": {"labelFont": "Liberation Sans", "labelFontSize": 11, "labelColor": "#262626", "gradientStrokeColor": "#262626", "gradientStrokeWidth": 1}
  }
}
